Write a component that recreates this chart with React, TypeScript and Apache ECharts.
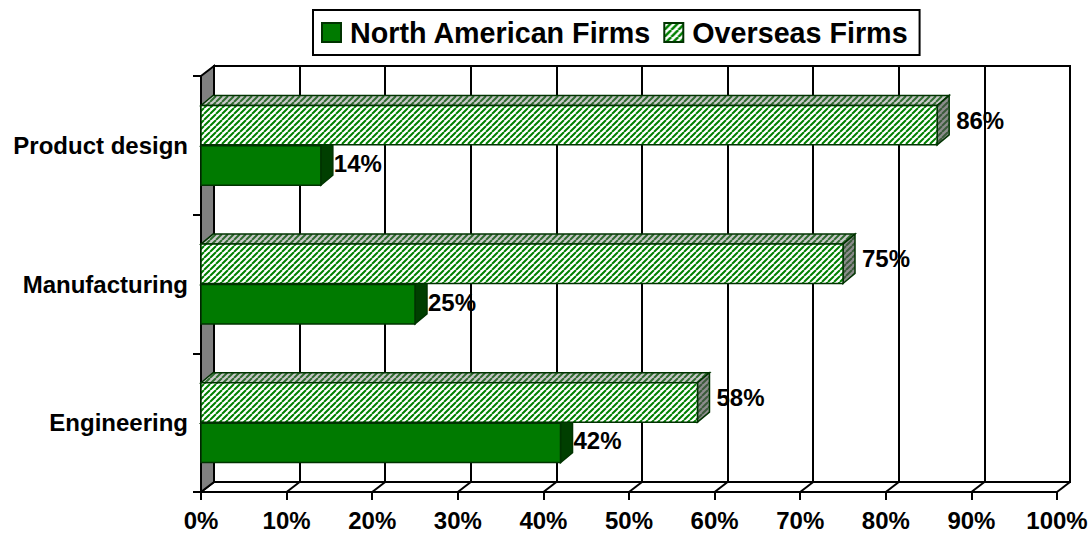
import React, { useEffect, useRef } from 'react';
import * as echarts from 'echarts';

const categories = ['Engineering', 'Manufacturing', 'Product design'];
const northAmerican = [42, 25, 14];
const overseas = [58, 75, 86];
const xTicks = [0, 10, 20, 30, 40, 50, 60, 70, 80, 90, 100];

const WDX = 13;
const WDY = -10;
const BDX = 12;
const BDY = -10;
const FONT = '"Liberation Sans", Arial, Helvetica, sans-serif';

function hatch(bg: string, fg: string, size: number, lw: number) {
  const c = document.createElement('canvas');
  c.width = size;
  c.height = size;
  const g = c.getContext('2d')!;
  g.fillStyle = bg;
  g.fillRect(0, 0, size, size);
  g.strokeStyle = fg;
  g.lineWidth = lw;
  g.beginPath();
  for (const o of [-size, 0, size]) {
    g.moveTo(o, size);
    g.lineTo(o + size, 0);
  }
  g.stroke();
  return { image: c, repeat: 'repeat' } as any;
}

export default function App() {
  const ref = useRef<HTMLDivElement>(null);
  useEffect(() => {
    const chart = echarts.init(ref.current!, null, { renderer: 'svg' });
    const naFront = '#007a00';
    const naSide = '#003f00';
    const edge = '#003300';
    const ovFront = hatch('#ffffff', '#008000', 6, 2);
    const ovTop = hatch('#c8c8c8', '#2e6b2e', 6, 2);
    const ovSide = hatch('#8c8c8c', '#3a5a3a', 6, 2);

    const barRender = (kind: 'na' | 'ov') => (params: any, api: any) => {
      const v = api.value(0);
      const c = api.value(1);
      const pEnd = api.coord([v, c]);
      const p0 = api.coord([0, c]);
      const band = api.size([0, 1])[1];
      const h = band * 0.284;
      const yTop = kind === 'ov' ? pEnd[1] - h - 0.5 : pEnd[1] + 0.5;
      const yBot = yTop + h;
      const x0 = p0[0];
      const x1 = pEnd[0];
      const front = kind === 'ov' ? ovFront : naFront;
      const top = kind === 'ov' ? ovTop : naFront;
      const side = kind === 'ov' ? ovSide : naSide;
      const stroke = { stroke: edge, lineWidth: 1.5 };
      return {
        type: 'group',
        children: [
          {
            type: 'polygon',
            shape: { points: [[x0, yTop], [x0 + BDX, yTop + BDY], [x1 + BDX, yTop + BDY], [x1, yTop]] },
            style: { fill: top, ...stroke },
          },
          {
            type: 'polygon',
            shape: { points: [[x1, yTop], [x1 + BDX, yTop + BDY], [x1 + BDX, yBot + BDY], [x1, yBot]] },
            style: { fill: side, ...stroke },
          },
          {
            type: 'rect',
            shape: { x: x0, y: yTop, width: x1 - x0, height: h },
            style: { fill: front, ...stroke },
          },
          {
            type: 'text',
            x: x1 + BDX + (kind === 'ov' ? 7 : 1),
            y: yTop + h / 2 + (kind === 'ov' ? -5 : -2),
            style: {
              text: v + '%',
              fill: '#000',
              font: `bold 24px ${FONT}`,
              align: 'left',
              verticalAlign: 'middle',
            },
          },
        ],
      };
    };

    const frameRender = (params: any, api: any) => {
      const v = api.value(0);
      const cs = params.coordSys;
      const bottom = cs.y + cs.height;
      const x = api.coord([v, 0])[0];
      const children: any[] = [
        {
          type: 'line',
          shape: { x1: x, y1: bottom, x2: x + WDX, y2: bottom + WDY },
          style: { stroke: '#000', lineWidth: 2 },
        },
      ];
      if (params.dataIndex === 0) {
        children.push({
          type: 'polygon',
          shape: {
            points: [[cs.x, cs.y], [cs.x + WDX, cs.y + WDY], [cs.x + WDX, bottom + WDY], [cs.x, bottom]],
          },
          style: { fill: '#808080', stroke: '#000', lineWidth: 2 },
        });
      }
      return { type: 'group', children };
    };

    const option: any = {
      animation: false,
      backgroundColor: '#fff',
      legend: {
        top: 10,
        left: 313,
        borderColor: '#000',
        borderWidth: 2,
        padding: [8, 12, 8, 8],
        itemWidth: 19,
        itemHeight: 19,
        itemGap: 12,
        textStyle: { fontSize: 28.7, fontWeight: 'bold', color: '#000', fontFamily: FONT, padding: [0, 0, 0, 4] },
        data: [
          { name: 'North American Firms', icon: 'rect', itemStyle: { color: naFront, borderColor: edge, borderWidth: 2 } },
          { name: 'Overseas Firms', icon: 'rect', itemStyle: { color: hatch('#ffffff', '#008000', 7, 2.5), borderColor: edge, borderWidth: 2 } },
        ],
      },
      grid: [
        { left: 201, right: 34, top: 76, bottom: 42, show: false },
        { left: 201 + WDX, right: 34 - WDX, top: 76 + WDY, bottom: 42 - WDY, show: true, borderColor: '#000', borderWidth: 2, backgroundColor: '#fff', z: 0 },
      ],
      xAxis: [
        {
          type: 'value',
          gridIndex: 0,
          min: 0,
          max: 100,
          interval: 10,
          axisLine: { show: true, lineStyle: { color: '#000', width: 2 } },
          axisTick: { show: true, length: 8, lineStyle: { color: '#000', width: 2 } },
          splitLine: { show: false },
          axisLabel: {
            formatter: (v: number) => v + '%',
            fontSize: 24,
            fontWeight: 'bold',
            color: '#000',
            fontFamily: FONT,
            margin: 16,
          },
        },
        {
          type: 'value',
          gridIndex: 1,
          min: 0,
          max: 100,
          interval: 10,
          axisLine: { show: false },
          axisTick: { show: false },
          axisLabel: { show: false },
          splitLine: { show: true, lineStyle: { color: '#000', width: 2, type: 'solid' } },
        },
      ],
      yAxis: [
        {
          type: 'category',
          gridIndex: 0,
          data: categories,
          axisLine: { show: true, lineStyle: { color: '#000', width: 2 } },
          axisTick: { show: true, length: 8, lineStyle: { color: '#000', width: 2 } },
          axisLabel: { fontSize: 24, fontWeight: 'bold', color: '#000', fontFamily: FONT, margin: 13 },
        },
        {
          type: 'category',
          gridIndex: 1,
          data: categories,
          show: false,
        },
      ],
      series: [
        {
          type: 'custom',
          name: 'frame',
          xAxisIndex: 0,
          yAxisIndex: 0,
          renderItem: frameRender,
          data: xTicks.map((t) => [t, 0]),
          z: 1,
          silent: true,
        },
        {
          type: 'custom',
          name: 'North American Firms',
          xAxisIndex: 0,
          yAxisIndex: 0,
          itemStyle: { color: naFront },
          renderItem: barRender('na'),
          data: northAmerican.map((v, i) => [v, i]),
          z: 3,
        },
        {
          type: 'custom',
          name: 'Overseas Firms',
          xAxisIndex: 0,
          yAxisIndex: 0,
          itemStyle: { color: '#008000' },
          renderItem: barRender('ov'),
          data: overseas.map((v, i) => [v, i]),
          z: 4,
        },
      ],
    };
    chart.setOption(option);
    return () => chart.dispose();
  }, []);
  return <div ref={ref} style={{ position: 'fixed', left: 0, top: 0, width: 1091, height: 534 }} />;
}
